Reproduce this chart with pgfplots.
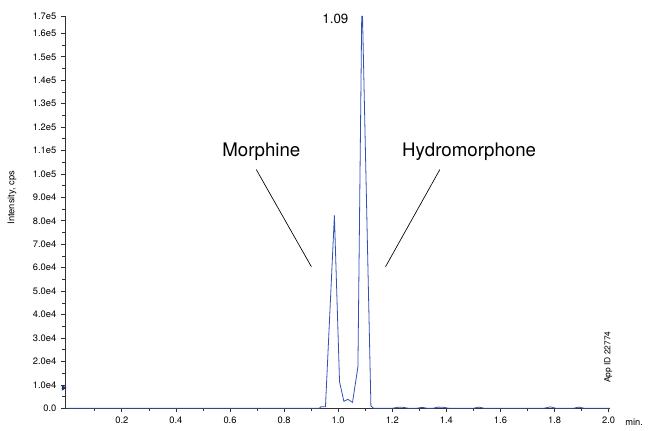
\documentclass[border=0pt]{standalone}
\usepackage{fontspec}
\setmainfont{TeX Gyre Heros}
\usepackage{pgfplots}
\pgfplotsset{compat=1.18}
\definecolor{trace}{RGB}{50,80,180}
\begin{document}
\begin{tikzpicture}
\useasboundingbox (0,0) rectangle (486pt,322.5pt);
\begin{axis}[
  at={(48.75pt,16.3pt)}, anchor=south west,
  scale only axis, width=408.75pt, height=294pt,
  xmin=-0.01, xmax=2.005, ymin=0, ymax=167300,
  axis lines=left,
  axis line style={-, draw=black!80, line width=0.6pt},
  xtick={0.2,0.4,0.6,0.8,1.0,1.2,1.4,1.6,1.8,2.0},
  xticklabels={0.2,0.4,0.6,0.8,1.0,1.2,1.4,1.6,1.8,2.0},
  minor xtick={0.1,0.3,0.5,0.7,0.9,1.1,1.3,1.5,1.7,1.9},
  ytick={0,10000,20000,30000,40000,50000,60000,70000,80000,90000,100000,110000,120000,130000,140000,150000,160000,167300},
  yticklabels={0.0,1.0e4,2.0e4,3.0e4,4.0e4,5.0e4,6.0e4,7.0e4,8.0e4,9.0e4,1.0e5,1.1e5,1.2e5,1.3e5,1.4e5,1.5e5,1.6e5,1.7e5},
  minor ytick={5000,15000,25000,35000,45000,55000,65000,75000,85000,95000,105000,115000,125000,135000,145000,155000},
  scaled y ticks=false,
  tick align=outside,
  major tick length=3pt, minor tick length=2pt,
  tick style={draw=black!80, line width=0.5pt},
  tick label style={font=\fontsize{7}{8}\selectfont},
  clip=false,
]
\addplot[color=trace, line width=0.6pt, mark=none] coordinates {
(0.000,0) (0.200,0) (0.400,0) (0.600,0) (0.800,0) (0.900,0) (0.930,0)
(0.936,600) (0.953,700) (0.986,82300) (1.005,11300) (1.021,3000)
(1.036,3800) (1.053,2500) (1.073,17700) (1.087,167300) (1.090,167300) (1.121,1000)
(1.131,0) (1.150,0) (1.200,0) (1.220,400) (1.240,400) (1.260,0)
(1.290,0) (1.310,400) (1.330,0) (1.350,0) (1.370,500) (1.390,400)
(1.410,0) (1.500,0) (1.520,500) (1.540,0) (1.760,0) (1.785,600)
(1.805,0) (1.870,0) (1.890,500) (1.910,0) (2.005,0)
};
\addplot[only marks, mark=triangle*, mark size=2pt, color=trace!60!black,
  mark options={rotate=-90}] coordinates {(-0.016,8700)};
\draw[black, line width=0.5pt] (axis cs:0.697,101900) -- (axis cs:0.901,60400);
\draw[black, line width=0.5pt] (axis cs:1.376,101900) -- (axis cs:1.175,60400);
\node[font=\fontsize{14}{16}\selectfont] at (axis cs:0.716,109400) {Morphine};
\node[font=\fontsize{14}{16}\selectfont] at (axis cs:1.484,109400) {Hydromorphone};
\node[font=\fontsize{10}{12}\selectfont, anchor=east] at (axis cs:1.055,166400) {1.09};
\node[font=\fontsize{6.3}{7}\selectfont, rotate=90] at (axis cs:1.998,21800) {App ID 22774};
\node[font=\fontsize{7}{8}\selectfont, rotate=90] at (axis cs:-0.206,89900) {Intensity, cps};
\node[font=\fontsize{7}{8}\selectfont, anchor=west] at ([xshift=8pt,yshift=-10.2pt]axis cs:2.005,0) {min.};
\end{axis}
\end{tikzpicture}
\end{document}
